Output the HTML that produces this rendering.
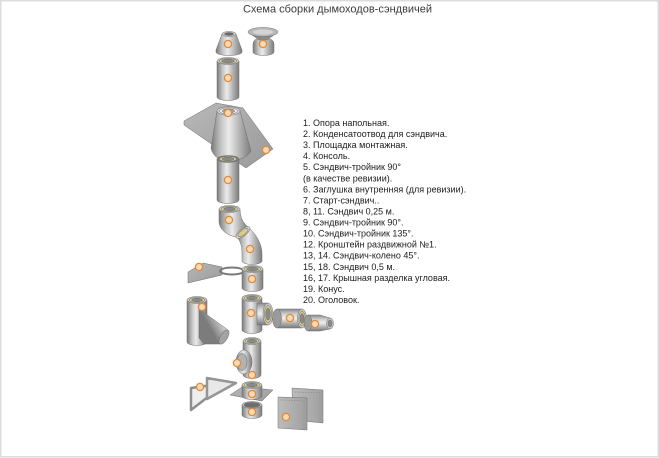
<!DOCTYPE html>
<html><head><meta charset="utf-8"><style>
html,body{margin:0;padding:0;background:#fff;}
#w{position:relative;width:659px;height:458px;overflow:hidden;background:#fff;}
svg{position:absolute;left:0;top:0;}
</style></head><body><div id="w">
<svg width="659" height="458" viewBox="0 0 659 458" xmlns="http://www.w3.org/2000/svg">
<defs>
<linearGradient id="pv" x1="0" y1="0" x2="1" y2="0">
<stop offset="0" stop-color="#7a7a7a"/><stop offset=".25" stop-color="#c4c4c4"/><stop offset=".45" stop-color="#ebebeb"/><stop offset=".72" stop-color="#b3b3b3"/><stop offset="1" stop-color="#7c7c7c"/></linearGradient>
<linearGradient id="ph" x1="0" y1="0" x2="0" y2="1">
<stop offset="0" stop-color="#8a8a8a"/><stop offset=".3" stop-color="#d6d6d6"/><stop offset=".5" stop-color="#eeeeee"/><stop offset=".75" stop-color="#b0b0b0"/><stop offset="1" stop-color="#7a7a7a"/></linearGradient>
<linearGradient id="pd" x1="0" y1="0" x2="1" y2="-0.7">
<stop offset="0" stop-color="#7c7c7c"/><stop offset=".35" stop-color="#cfcfcf"/><stop offset=".55" stop-color="#ececec"/><stop offset="1" stop-color="#9a9a9a"/></linearGradient>
<linearGradient id="pl" x1="0" y1="0" x2="1" y2="1">
<stop offset="0" stop-color="#b8b8b8"/><stop offset="1" stop-color="#9a9a9a"/></linearGradient>
<linearGradient id="pn" x1="0" y1="0" x2="1" y2="0">
<stop offset="0" stop-color="#bcbcbc"/><stop offset="1" stop-color="#a0a0a0"/></linearGradient>
</defs>

<!-- frame -->
<rect x="0.75" y="0.75" width="657.5" height="456" fill="none" stroke="#dcdcdc" stroke-width="1.5"/>

<text x="337.5" y="12.5" font-family="Liberation Sans, sans-serif" font-size="11" fill="#3a3a3a" text-anchor="middle">Схема сборки дымоходов-сэндвичей</text>

<g font-family="Liberation Sans, sans-serif" font-size="9" fill="#1c1c1c">
<text x="303" y="126">1. Опора напольная.</text>
<text x="303" y="137.06">2. Конденсатоотвод для сэндвича.</text>
<text x="303" y="148.12">3. Площадка монтажная.</text>
<text x="303" y="159.18">4. Консоль.</text>
<text x="303" y="170.24">5. Сэндвич-тройник 90°</text>
<text x="303" y="181.3">(в качестве ревизии).</text>
<text x="303" y="192.36">6. Заглушка внутренняя (для ревизии).</text>
<text x="303" y="203.42">7. Старт-сэндвич..</text>
<text x="303" y="214.48">8, 11. Сэндвич 0,25 м.</text>
<text x="303" y="225.54">9. Сэндвич-тройник 90°.</text>
<text x="303" y="236.6">10. Сэндвич-тройник 135°.</text>
<text x="303" y="247.66">12. Кронштейн раздвижной №1.</text>
<text x="303" y="258.72">13, 14. Сэндвич-колено 45°.</text>
<text x="303" y="269.78">15, 18. Сэндвич 0,5 м.</text>
<text x="303" y="280.84">16, 17. Крышная разделка угловая.</text>
<text x="303" y="291.9">19. Конус.</text>
<text x="303" y="302.96">20. Оголовок.</text>
</g>

<g stroke="#6e6e6e" stroke-width="0.5">
<!-- cone 19 -->
<path d="M222,34 L216,50 L216,52 A13,3.5 0 0 0 242,52 L242,50 L236,34 Z" fill="url(#pv)"/>
<ellipse cx="229" cy="34" rx="7" ry="2.5" fill="#cfcfcf"/>
<ellipse cx="229" cy="34" rx="4.5" ry="1.5" fill="#6a6a6a"/>

<!-- cap 20 -->
<path d="M253,44 Q253,38 263,38 Q274,38 274,44 L274,52 A10.5,3.5 0 0 1 253,52 Z" fill="url(#pv)"/>
<path d="M248,32 L278,32 L267,40 L259,40 Z" fill="#8c8c8c"/>
<ellipse cx="263" cy="32" rx="15" ry="4.5" fill="#b8b8b8"/>
<ellipse cx="263" cy="32" rx="10" ry="2.6" fill="#d4d4d4" stroke="none"/>

<!-- pipe top -->
<path d="M217,61 V97 A11,3.5 0 0 0 239,97 V61 Z" fill="url(#pv)"/>
<ellipse cx="228" cy="61" rx="11" ry="3.5" fill="#c8c8c8"/>
<ellipse cx="228" cy="61" rx="8.8" ry="2.7" fill="#d8cc86"/>
<ellipse cx="228" cy="61" rx="6.3" ry="1.9" fill="#8a8a8a"/>

<!-- roof plate -->
<path d="M184,121 L216,103 L243,108 L273,149 L246,168 L184,125 Z" fill="url(#pl)"/>
<path d="M217,111 L211,148 Q214,161 230,161 Q246,160 251,151 L240,111 Z" fill="url(#pv)"/>
<ellipse cx="228.5" cy="111" rx="11.5" ry="4.3" fill="#d0d0d0"/>
<ellipse cx="228.5" cy="111" rx="9" ry="3.2" fill="#efefef"/>
<ellipse cx="228.5" cy="111" rx="6.2" ry="2.2" fill="#a0a0a0"/>

<!-- pipe 7 -->
<path d="M217,159 V200 A11,3.5 0 0 0 239,200 V159 Z" fill="url(#pv)"/>
<ellipse cx="228" cy="159" rx="11" ry="3.5" fill="#7e7e7e"/>
<ellipse cx="228" cy="159" rx="8.5" ry="2.6" fill="#d8cc86"/>
<ellipse cx="228" cy="159" rx="6" ry="1.8" fill="#8a8a8a"/>

<!-- elbow upper -->
<path d="M219,209 L219,221 C219,229 226,235 236,237 L248,227 C243,223 240,217 240,209 Z" fill="url(#pv)"/>
<ellipse cx="229.5" cy="209" rx="10.5" ry="3.5" fill="#c8c8c8"/>
<ellipse cx="229.5" cy="209" rx="8.3" ry="2.7" fill="#d8cc86"/>
<ellipse cx="229.5" cy="209" rx="5.8" ry="1.9" fill="#8a8a8a"/>
<!-- elbow lower -->
<path d="M237,237 L249,228 C257,235 262,245 262,254 L262,261 A10,3.5 0 0 1 242,261 L242,254 C242,247 241,242 237,237 Z" fill="url(#pv)"/>
<ellipse cx="243" cy="232.5" rx="8.5" ry="3.5" transform="rotate(-38 243 232.5)" fill="#d6d6d6"/>
<ellipse cx="243" cy="232.5" rx="6.2" ry="2.5" transform="rotate(-38 243 232.5)" fill="#d8cc86"/>

<!-- console 12 -->
<path d="M188,272 L203,263 L222,267 L222,275 L188,283 Z" fill="url(#pl)"/>
<ellipse cx="232" cy="271" rx="12" ry="3.5" fill="none" stroke="#7a7a7a" stroke-width="2"/>

<!-- short pipe 8 -->
<path d="M242,269 V288 A10.5,3.5 0 0 0 263,288 V269 Z" fill="url(#pv)"/>
<ellipse cx="252.5" cy="269" rx="10.5" ry="3.5" fill="#c8c8c8"/>
<ellipse cx="252.5" cy="269" rx="8.3" ry="2.7" fill="#d8cc86"/>
<ellipse cx="252.5" cy="269" rx="5.8" ry="1.9" fill="#8a8a8a"/>

<!-- tee 90 (9) -->
<path d="M242,298 V330 A10,3.5 0 0 0 262,330 V298 Z" fill="url(#pv)"/>
<ellipse cx="252" cy="298" rx="10" ry="3.5" fill="#c8c8c8"/>
<ellipse cx="252" cy="298" rx="7.8" ry="2.6" fill="#d8cc86"/>
<ellipse cx="252" cy="298" rx="5.4" ry="1.8" fill="#8a8a8a"/>
<path d="M257,303 H268 V325 H257 Z" fill="url(#ph)"/>
<ellipse cx="268" cy="314" rx="5" ry="11" fill="#c4c4c4"/>
<ellipse cx="268" cy="314" rx="3.6" ry="8.5" fill="#d8cc86"/>
<ellipse cx="268" cy="314" rx="2.3" ry="6" fill="#8a8a8a"/>

<!-- horizontal pipe 11 -->
<path d="M277,309 H302 V328 H277 Z" fill="url(#ph)"/>
<ellipse cx="277" cy="318.5" rx="4.5" ry="9.5" fill="#9a9a9a"/>
<ellipse cx="302" cy="318.5" rx="4.5" ry="9.5" fill="#c8c8c8"/>
<ellipse cx="302" cy="318.5" rx="3.2" ry="7.2" fill="#d8cc86"/>
<ellipse cx="302" cy="318.5" rx="2" ry="5" fill="#8a8a8a"/>

<!-- reducer -->
<path d="M308,315 L320,315 L330,318 L330,329 L320,331 L308,331 Z" fill="url(#ph)"/>
<ellipse cx="308" cy="323" rx="4" ry="8" fill="#9a9a9a"/>
<ellipse cx="330" cy="323.5" rx="3.5" ry="5.5" fill="#c4c4c4"/>
<ellipse cx="330" cy="323.5" rx="2" ry="3.5" fill="#8a8a8a"/>

<!-- tee 135 (10) -->
<path d="M187,300 V342 A10,3.5 0 0 0 207,342 V300 Z" fill="url(#pv)"/>
<path d="M199,309 L228,330 L220,344 L204,344 L199,338 Z" fill="url(#pd)"/>
<ellipse cx="224" cy="337" rx="3.5" ry="8" transform="rotate(30 224 337)" fill="#a4a4a4"/>
<ellipse cx="197" cy="300" rx="10" ry="3.5" fill="#c8c8c8"/>
<ellipse cx="197" cy="300" rx="7.8" ry="2.6" fill="#d8cc86"/>
<ellipse cx="197" cy="300" rx="5.4" ry="1.8" fill="#8a8a8a"/>

<!-- tee revision (5/6) -->
<path d="M243,341 V375 A9,3.5 0 0 0 261,375 V341 Z" fill="url(#pv)"/>
<ellipse cx="252" cy="341" rx="9" ry="3.5" fill="#c8c8c8"/>
<ellipse cx="252" cy="341" rx="7" ry="2.6" fill="#d8cc86"/>
<ellipse cx="252" cy="341" rx="4.8" ry="1.8" fill="#8a8a8a"/>
<ellipse cx="244" cy="362" rx="8" ry="12" fill="url(#pv)"/>
<ellipse cx="242" cy="362" rx="5" ry="8.5" fill="#b2b2b2"/>

<!-- start plate 3/7 -->
<path d="M230,395 L242,387 L273,390 L262,401 Z" fill="url(#pl)"/>
<path d="M242,385 V396 A10,3.5 0 0 0 262,396 V385 Z" fill="url(#pv)"/>
<ellipse cx="252" cy="385" rx="10" ry="3.5" fill="#c8c8c8"/>
<ellipse cx="252" cy="385" rx="7.8" ry="2.6" fill="#d8cc86"/>
<ellipse cx="252" cy="385" rx="5.4" ry="1.8" fill="#8a8a8a"/>

<!-- floor support 1 -->
<path d="M242,405 V415 A10,3.5 0 0 0 262,415 V405 Z" fill="url(#pv)"/>
<ellipse cx="252" cy="405" rx="10" ry="3.5" fill="#bdbdbd"/>
<ellipse cx="252" cy="405" rx="8" ry="2.6" fill="#6e6e6e"/>

<!-- triangles 4 -->
<polygon points="191,388 226,383 191,410" fill="#eeeeee" stroke="#8e8e8e" stroke-width="2.5" stroke-linejoin="round"/>
<polygon points="207,378 236,383 207,399" fill="#e8e8e8" stroke="#959595" stroke-width="2.5" stroke-linejoin="round"/>

<!-- panels 16/17 -->
<polygon points="292,388 323,390 323,423 293,420" fill="url(#pn)"/>
<polygon points="278,397 307,398 307,430 278,428" fill="url(#pn)"/>
</g>
<g stroke="#7a7a7a" stroke-width="0.6" stroke-dasharray="1 1.6" fill="none">
<path d="M320,392 V421 M295,392 L321,393"/>
<path d="M304,401 V428 M281,400 L305,401"/>
</g>

<!-- orange markers -->
<g fill="#f6dab8" stroke="#e08a3a" stroke-width="1.3">
<circle cx="228" cy="44" r="3.6"/>
<circle cx="263" cy="44" r="3.6"/>
<circle cx="228" cy="78" r="3.6"/>
<circle cx="228" cy="113" r="3.6"/>
<circle cx="266" cy="150" r="3.6"/>
<circle cx="228" cy="180" r="3.6"/>
<circle cx="229" cy="220" r="3.6"/>
<circle cx="250" cy="249" r="3.6"/>
<circle cx="199" cy="267" r="3.6"/>
<circle cx="252" cy="279" r="3.6"/>
<circle cx="251" cy="313" r="3.6"/>
<circle cx="290" cy="318" r="3.6"/>
<circle cx="315" cy="324" r="3.6"/>
<circle cx="202" cy="307" r="3.6"/>
<circle cx="237" cy="363" r="3.6"/>
<circle cx="252" cy="375" r="3.6"/>
<circle cx="252" cy="394" r="3.6"/>
<circle cx="252" cy="412" r="3.6"/>
<circle cx="200" cy="387" r="3.6"/>
<circle cx="286" cy="417" r="3.6"/>
</g>
</svg>
</div></body></html>
